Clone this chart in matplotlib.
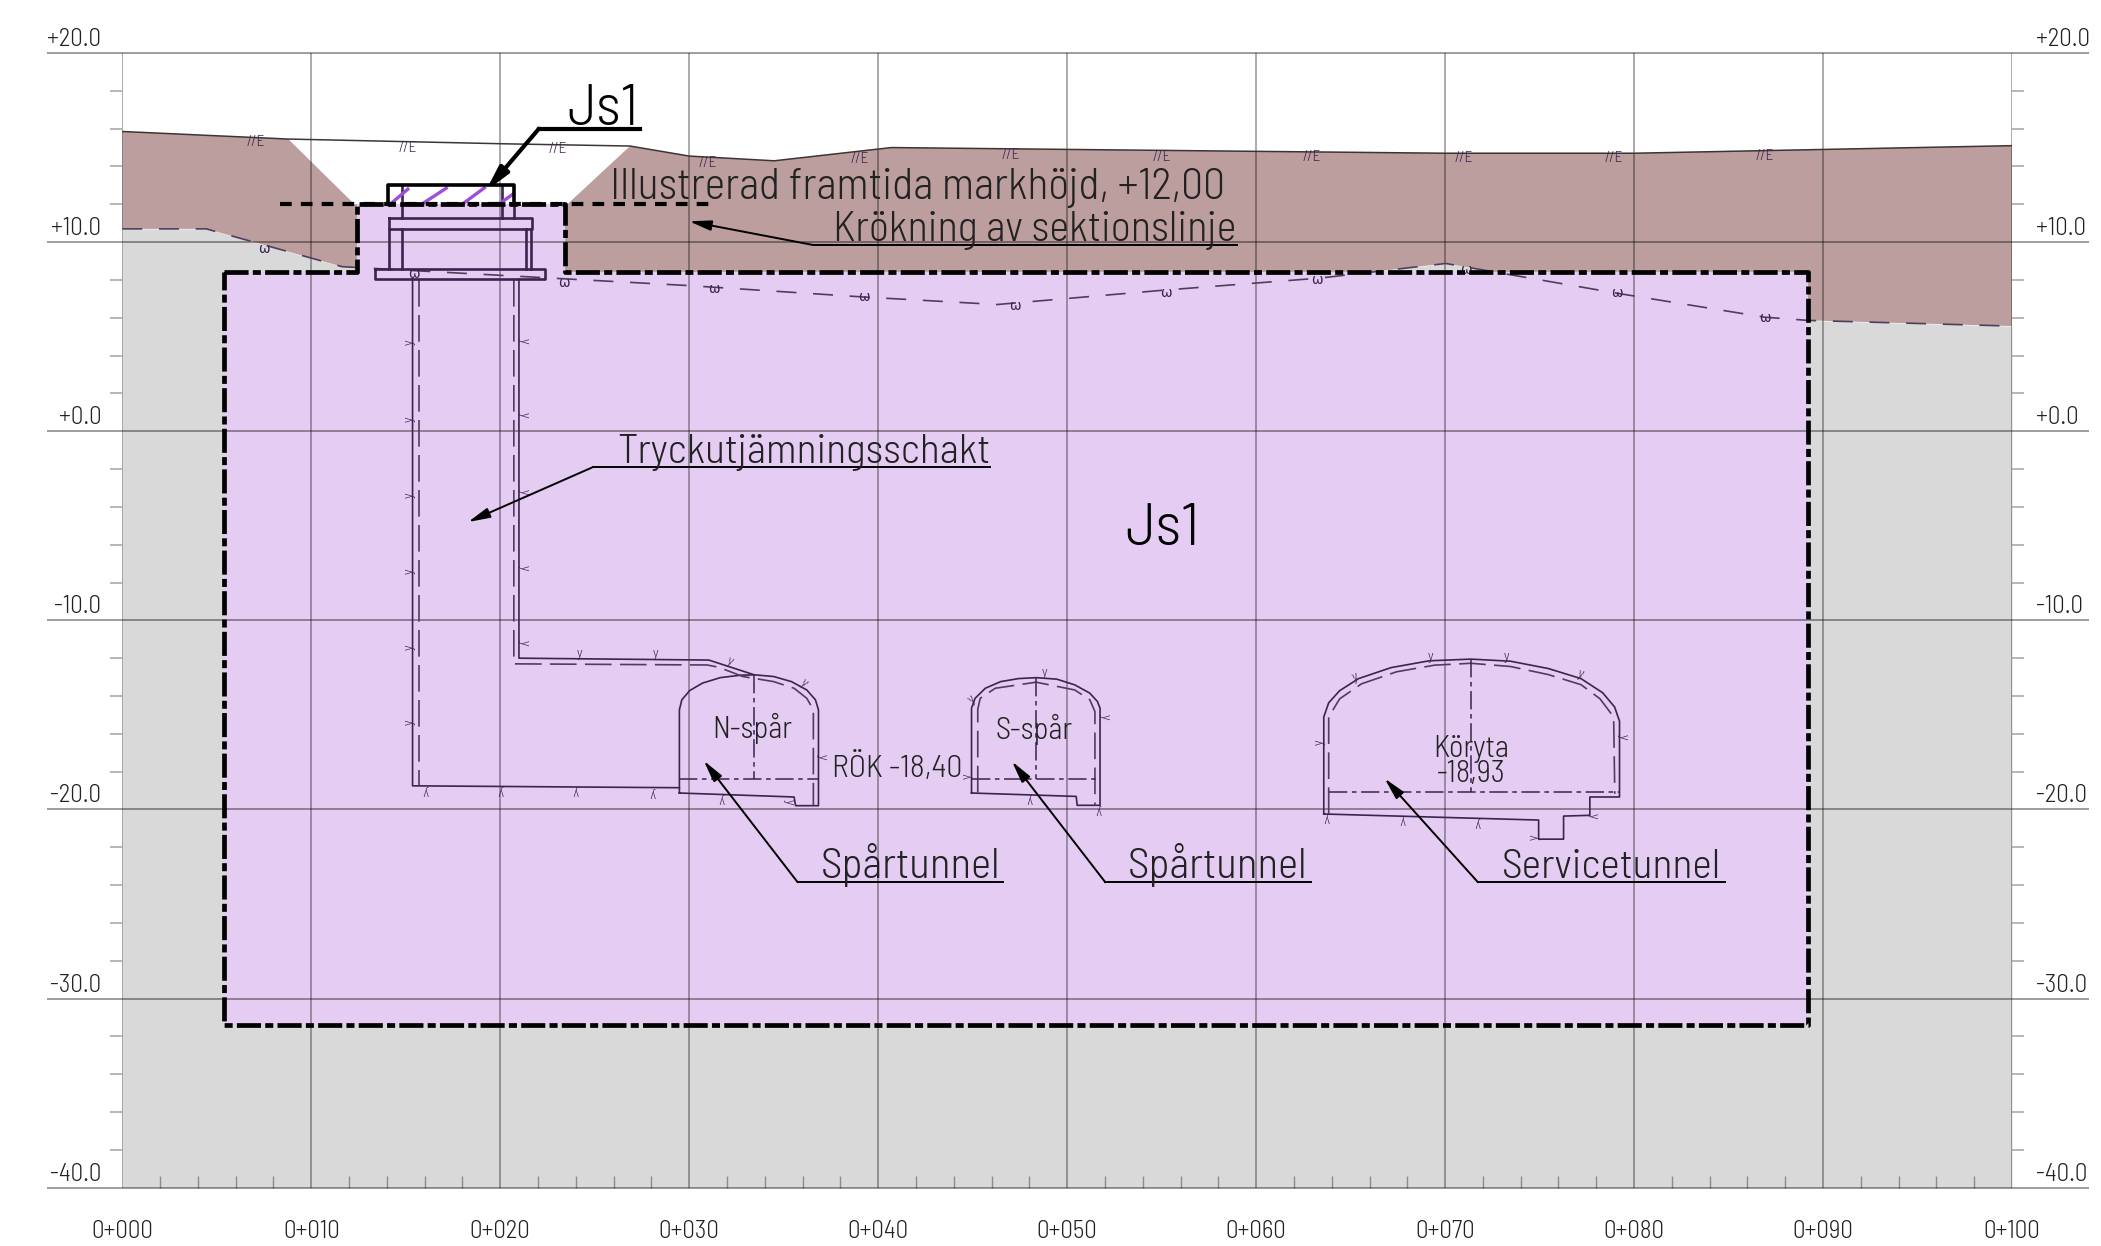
import matplotlib
matplotlib.use('Agg')

import matplotlib.pyplot as plt
from matplotlib.transforms import ScaledTranslation

plt.rcParams['font.family'] = ['Barlow Semi Condensed', 'Barlow Condensed', 'Alumni Sans', 'Liberation Sans', 'DejaVu Sans']
plt.rcParams['font.weight'] = 300

# sektion, meter
x_ticks = [0, 10, 20, 30, 40, 50, 60, 70, 80, 90, 100]
x_tick_labels = ["0+000", "0+010", "0+020", "0+030", "0+040", "0+050", "0+060", "0+070", "0+080", "0+090", "0+100"]
y_ticks = [20, 10, 0, -10, -20, -30, -40]
y_tick_labels = ["+20.0", "+10.0", "+0.0", "-10.0", "-20.0", "-30.0", "-40.0"]
x_minor = [v for v in range(0, 101, 2)]
y_minor = [v for v in range(-40, 21, 2)]

terrain_x = [0, 8.78, 20.14, 26.87, 30.0, 34.5, 40.7, 50.2, 60, 70, 80, 90, 100]
terrain_y = [15.85, 15.45, 15.2, 15.08, 14.55, 14.3, 15.0, 14.9, 14.8, 14.7, 14.7, 14.9, 15.1]
rock_x = [0, 4.45, 11.64, 30.0, 39.2, 46.3, 55, 63.4, 70.03, 79.08, 86.92, 89.22, 100]
rock_y = [10.7, 10.7, 8.7, 7.7, 7.1, 6.7, 7.45, 8.1, 8.87, 7.3, 6.03, 5.86, 5.56]

cut_x = [8.78, 12.29, 23.55, 26.87]
cut_y = [15.45, 12.0, 12.0, 15.08]

js1_x = [5.4, 12.4, 12.4, 23.42, 23.42, 89.22, 89.22, 5.4, 5.4]
js1_y = [8.4, 8.4, 12.0, 12.0, 8.4, 8.4, -31.4, -31.4, 8.4]

soil_mark_x = [7.07, 15.11, 23.05, 31.0, 39.0, 47.0, 55.0, 62.95, 70.98, 78.95, 86.92]
soil_mark_y = [15.3, 15.0, 14.9, 14.2, 14.4, 14.6, 14.5, 14.5, 14.45, 14.45, 14.55]
rock_mark_x = [7.47, 15.41, 23.35, 31.29, 39.25, 47.25, 55.25, 63.22, 71.11, 79.08, 86.92]
rock_mark_y = [9.65, 8.3, 7.85, 7.5, 7.1, 6.6, 7.3, 8.0, 8.5, 7.3, 6.0]

# schakt
shaft_left_x = [15.36, 15.36, 29.48]
shaft_left_y = [8.04, -18.75, -18.85]
shaft_right_x = [20.99, 20.99, 31.04, 33.41]
shaft_right_y = [8.04, -12.0, -12.1, -12.87]
shaft_inner_left_x = [15.71, 15.71]
shaft_inner_left_y = [8.0, -18.7]
shaft_inner_right_x = [20.72, 20.72, 30.95, 31.56, 32.84, 34.47, 35.55, 36.22, 36.57, 36.57]
shaft_inner_right_y = [8.0, -12.3, -12.36, -12.48, -12.97, -13.24, -13.59, -14.12, -14.73, -19.8]

# N-spår
n_x = [29.48, 29.48, 29.61, 30.03, 30.7, 31.64, 32.71, 33.45, 34.47, 35.41, 36.22, 36.68, 36.84, 36.84, 35.63, 35.55, 29.48]
n_y = [-19.13, -14.73, -14.2, -13.71, -13.32, -13.03, -12.9, -12.88, -12.97, -13.24, -13.68, -14.2, -14.73, -19.8, -19.8, -19.34, -19.13]
n_level = -18.39
n_center = 33.45
n_crown = -12.88

# S-spår
s_x = [44.94, 44.94, 45.13, 45.67, 46.48, 47.42, 48.36, 49.45, 50.4, 51.2, 51.6, 51.74, 51.74, 50.53, 50.48, 44.94]
s_y = [-19.13, -14.64, -14.12, -13.59, -13.24, -13.08, -13.03, -13.11, -13.41, -13.85, -14.29, -14.64, -19.78, -19.78, -19.31, -19.13]
s_inner_x = [45.27, 45.27, 45.4, 46.2, 48.36, 50.4, 51.2, 51.47, 51.47]
s_inner_y = [-19.1, -14.7, -14.12, -13.59, -13.27, -13.68, -14.2, -14.82, -19.8]
s_level = -18.39
s_center = 48.36
s_crown = -13.03

# Servicetunnel
t_x = [63.58, 63.58, 63.84, 64.42, 65.42, 67.14, 69.15, 71.36, 73.46, 75.47, 77.19, 78.34, 78.97, 79.23, 79.23, 77.66, 77.66, 76.27, 76.27, 74.95, 74.95, 63.58]
t_y = [-20.24, -15.11, -14.36, -13.72, -13.08, -12.5, -12.14, -12.05, -12.16, -12.55, -13.08, -13.83, -14.58, -15.33, -19.34, -19.34, -20.31, -20.35, -21.57, -21.57, -20.56, -20.24]
t_inner_x = [63.84, 63.84, 64.42, 65.57, 67.43, 69.44, 71.36, 73.46, 75.47, 77.19, 78.2, 78.92, 78.98]
t_inner_y = [-20.24, -15.11, -14.15, -13.36, -12.72, -12.37, -12.27, -12.44, -12.87, -13.4, -14.15, -15.11, -19.17]
t_level = -19.05
t_center = 71.36
t_crown = -12.05

# små markeringar längs konturerna
contour_x = [15.17, 15.17, 15.17, 15.17, 15.17, 15.17, 21.24, 21.24, 21.24, 21.24, 21.24,
             24.21, 28.21, 32.17, 36.09, 37.03, 35.28, 31.72, 16.05, 20.03, 24.02, 28.05,
             48.78, 44.94, 52.02, 44.73, 48.04, 51.66,
             69.21, 73.25, 65.22, 77.19, 63.33, 79.43, 63.75, 67.76, 71.76, 77.83, 74.69]
contour_y = [4.7, 0.65, -3.4, -7.4, -11.42, -15.4, 4.8, 0.85, -3.2, -7.2, -11.2,
             -11.74, -11.74, -12.18, -13.32, -17.23, -19.6, -19.48, -19.04, -19.04, -19.04, -19.13,
             -12.76, -14.17, -15.08, -18.25, -19.48, -20.06,
             -11.9, -11.9, -12.97, -12.82, -16.44, -16.14, -20.5, -20.6, -20.73, -20.33, -21.46]
contour_rot = [90, 90, 90, 90, 90, 90, -90, -90, -90, -90, -90,
               0, 0, -25, -40, -90, -90, 180, 180, 180, 180, 180,
               0, 40, -90, 90, 180, 180,
               0, 0, 20, -20, 90, -90, 180, 180, 180, -90, 90]

ink = "#222222"
struct = "#3a2450"
dash_col = "#4d3f5c"
grid_col = "black"

fig = plt.figure(figsize=(21.01, 12.46), dpi=100)
ax = fig.add_axes([122.3 / 2101, 1 - 1187.7 / 1246, 1889.7 / 2101, (1187.7 - 53) / 1246])
ax.set_xlim(0, 100)
ax.set_ylim(-40, 20)
for s in ax.spines.values():
    s.set_visible(False)

# ytor
ax.fill_between(rock_x, -40, rock_y, color="#d9d9d9", lw=0, zorder=1)
ax.fill(terrain_x + rock_x[::-1], terrain_y + rock_y[::-1], color="#bd9e9e", lw=0, zorder=2)
ax.fill(cut_x, cut_y, color="white", lw=0, zorder=3)
ax.fill(js1_x, js1_y, color="#e4ccf3", lw=0, zorder=4)
ax.fill([14.05, 20.74, 20.74, 14.05], [12.0, 12.0, 13.0, 13.0], color="white", lw=0, zorder=4)

# rutnät
ax.set_xticks(x_ticks)
ax.set_xticklabels(x_tick_labels, fontsize=18, color=ink)
ax.set_yticks(y_ticks)
ax.set_yticklabels(y_tick_labels, fontsize=18, color=ink)
ax.set_xticks(x_minor, minor=True)
ax.set_yticks(y_minor, minor=True)
ax.tick_params(axis="x", which="major", length=0, pad=23)
ax.tick_params(axis="x", which="minor", direction="in", length=8.5, width=1, color="#8c8c8c")
ax.tick_params(axis="y", which="major", length=0, pad=15, left=True, right=True, labelleft=True, labelright=True)
ax.tick_params(axis="y", which="minor", direction="out", length=8.5, width=1.2, color="#aaaaaa", left=True, right=True)
lift_left = ScaledTranslation(0, 1.5 / 72, fig.dpi_scale_trans)
lift_right = ScaledTranslation(2.5 / 72, 1.5 / 72, fig.dpi_scale_trans)
for t in ax.yaxis.get_major_ticks():
    t.label1.set_va("bottom")
    t.label1.set_transform(t.label1.get_transform() + lift_left)
    t.label2.set_va("bottom")
    t.label2.set_transform(t.label2.get_transform() + lift_right)
ax.vlines(x_ticks, -40, 20, color=grid_col, alpha=0.42, lw=1.1, zorder=5)
ax.hlines(y_ticks, -3.97, 104.07, color=grid_col, alpha=0.38, lw=1.4, zorder=5, clip_on=False)

# mark och berg
ax.plot(terrain_x, terrain_y, color="#3d3535", lw=1.1, zorder=6)
ax.plot(rock_x, rock_y, color=dash_col, lw=1.2, dashes=(12, 10), zorder=6)
for x, y in zip(soil_mark_x, soil_mark_y):
    ax.text(x, y, "//E", fontsize=11, ha="center", va="center", color=struct, zorder=7)
for x, y in zip(rock_mark_x, rock_mark_y):
    ax.text(x, y, "\u03c9", fontsize=10, ha="center", va="center", color=struct, zorder=7, family="DejaVu Sans", weight="normal")

# schakt och tunnlar
for xs, ys in [(shaft_left_x, shaft_left_y), (shaft_right_x, shaft_right_y), (n_x, n_y), (s_x, s_y), (t_x, t_y)]:
    ax.plot(xs, ys, color=struct, lw=1.2, zorder=7)
for xs, ys in [(shaft_inner_left_x, shaft_inner_left_y), (shaft_inner_right_x, shaft_inner_right_y),
               (s_inner_x, s_inner_y), (t_inner_x, t_inner_y)]:
    ax.plot(xs, ys, color=dash_col, lw=1.2, dashes=(16, 5), zorder=7)
for left, right, level, center, crown in [(29.48, 36.84, n_level, n_center, n_crown),
                                          (44.94, 51.74, s_level, s_center, s_crown),
                                          (63.84, 79.23, t_level, t_center, t_crown)]:
    ax.plot([left, right], [level, level], color=struct, lw=1.1, dashes=(12, 3, 3, 3), zorder=7)
    ax.plot([center, center], [crown, level], color=struct, lw=1.1, dashes=(12, 3, 3, 3), zorder=7)
for x, y, r in zip(contour_x, contour_y, contour_rot):
    ax.text(x, y, "y", fontsize=10, rotation=r, ha="center", va="center", color=struct, zorder=7)

# ovandel schakt
for xs, ys in [([14.1, 14.1], [10.68, 8.57]), ([14.81, 14.81], [10.68, 8.57]),
               ([21.34, 21.34], [10.68, 8.57]), ([21.64, 21.64], [10.68, 8.57]),
               ([14.81, 14.81], [13.0, 11.3]), ([20.09, 20.09], [13.0, 11.3]), ([20.74, 20.74], [12.0, 11.3]),
               ([14.1, 21.69, 21.69, 14.1, 14.1], [11.3, 11.3, 10.68, 10.68, 11.3]),
               ([13.35, 22.35, 22.35, 13.35, 13.35], [8.57, 8.57, 8.04, 8.04, 8.57])]:
    ax.plot(xs, ys, color=struct, lw=1.9, zorder=8)
for xs, ys in [([14.3, 15.11], [12.11, 12.8]), ([15.82, 17.14], [11.99, 12.85]),
               ([17.97, 19.16], [11.99, 12.87]), ([20.0, 20.69], [12.06, 12.55])]:
    ax.plot(xs, ys, color="#9b4fdb", lw=2.4, zorder=8)

# tjocka linjer
ax.plot(js1_x, js1_y, color="black", lw=3.4, dashes=(5.1, 0.9, 1.7, 0.9), zorder=9, clip_on=False)
ax.plot([8.37, 31.4], [12.0, 12.0], color="black", lw=3.0, dashes=(2.8, 2.2), zorder=9)
ax.plot([14.05, 14.05, 20.74, 20.74], [12.0, 13.0, 13.0, 12.0], color="black", lw=2.6, zorder=9)


def leader(tip, x0, x1, y, lw=1.4, mut=22):
    ax.plot([x0, x1], [y, y], color="black", lw=lw, zorder=10)
    ax.annotate("", xy=tip, xytext=(x0, y), zorder=10,
                arrowprops=dict(arrowstyle="-|>,head_length=0.6,head_width=0.14", color="black",
                                lw=lw, shrinkA=0, shrinkB=0, mutation_scale=mut))


leader((19.23, 12.7), 22.05, 27.37, 16.0, lw=3.0, mut=24)
leader((30.0, 11.1), 36.55, 59.0, 9.85)
leader((18.3, -4.8), 24.9, 45.9, -1.9)
leader((30.77, -17.42), 35.74, 46.62, -23.85)
leader((47.08, -17.46), 52.02, 62.9, -23.85)
leader((66.8, -18.36), 71.74, 84.8, -23.85)

ax.text(23.55, 16.2, "Js1", fontsize=42, color="black", va="baseline", zorder=10)
ax.text(25.8, 12.3, "Illustrerad framtida markhöjd, +12,00", fontsize=31.5, color=ink, va="baseline", zorder=10)
ax.text(37.6, 10.05, "Krökning av sektionslinje", fontsize=30.5, color=ink, va="baseline", zorder=10)
ax.text(26.2, -1.7, "Tryckutjämningsschakt", fontsize=30, color=ink, va="baseline", zorder=10)
ax.text(53.1, -6.0, "Js1", fontsize=44, color="black", va="baseline", zorder=10)
ax.text(36.95, -23.6, "Spårtunnel", fontsize=31, color=ink, va="baseline", zorder=10)
ax.text(53.2, -23.6, "Spårtunnel", fontsize=31, color=ink, va="baseline", zorder=10)
ax.text(73.03, -23.6, "Servicetunnel", fontsize=30, color=ink, va="baseline", zorder=10)
ax.text(33.36, -16.2, "N-spår", fontsize=22, color=ink, ha="center", va="baseline", zorder=10)
ax.text(48.23, -16.3, "S-spår", fontsize=22, color=ink, ha="center", va="baseline", zorder=10)
ax.text(37.57, -18.29, "RÖK -18,40", fontsize=23, color=ink, va="baseline", zorder=10)
ax.text(71.36, -17.25, "Köryta", fontsize=22, color=ink, ha="center", va="baseline", zorder=10)
ax.text(71.36, -18.53, "-18,93", fontsize=22, color=ink, ha="center", va="baseline", zorder=10)

plt.savefig("out.png", dpi=100)
plt.close()
